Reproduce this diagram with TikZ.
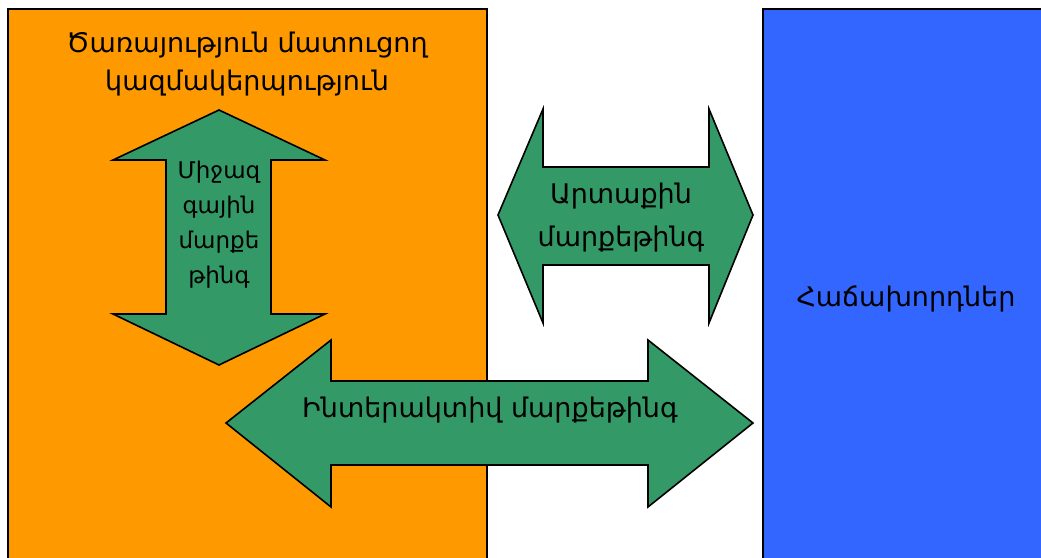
\documentclass[tikz,border=0pt]{standalone}
\usepackage{fontspec}
\newfontfamily\armfont{DejaVu Sans}
\definecolor{orgfill}{HTML}{FF9900}
\definecolor{custfill}{HTML}{3366FF}
\definecolor{arrowfill}{HTML}{339966}
\begin{document}
\begin{tikzpicture}[x=1pt,y=-1pt,
  block/.style={draw=black,line width=1.6pt},
  bigarrow/.style={draw=black,fill=arrowfill,line width=1.6pt,line join=miter},
  label/.style={font=\armfont\fontsize{27}{38}\selectfont,align=center,text=black,inner sep=0pt}]
\useasboundingbox (0,0) rectangle (1041,557);
% the two organisational blocks
\path[block,fill=orgfill] (8,575) -- (8,9) -- (487,9) -- (487,575);
\path[block,fill=custfill] (763,575) -- (763,9) -- (1060,9) -- (1060,575);
% internal marketing: vertical double arrow
\path[bigarrow] (219,110) -- (325,160) -- (271,160) -- (271,314) -- (325,314)
  -- (219,365) -- (113,314) -- (166,314) -- (166,160) -- (113,160) -- cycle;
% external marketing: horizontal double arrow
\path[bigarrow] (498,215) -- (543,109) -- (543,167) -- (709,167) -- (709,109)
  -- (753,215) -- (709,323) -- (709,265) -- (543,265) -- (543,323) -- cycle;
% interactive marketing: wide double arrow
\path[bigarrow] (226,423) -- (331,340) -- (331,381) -- (648,381) -- (648,340)
  -- (753,423) -- (648,507) -- (648,465) -- (331,465) -- (331,507) -- cycle;
% texts
\node[label] (org) at (247,64) {Ծառայություն մատուցող\\կազմակերպություն};
\node[label,font=\armfont\fontsize{23}{35}\selectfont] (internal) at (219,225) {Միջազ\\գային\\մարքե\\թինգ};
\node[label,font=\armfont\fontsize{27}{43}\selectfont] (external) at (621,218) {Արտաքին\\մարքեթինգ};
\node[label] (interactive) at (490,410) {Ինտերակտիվ մարքեթինգ};
\node[label] (customers) at (906,299) {Հաճախորդներ};
\end{tikzpicture}
\end{document}
